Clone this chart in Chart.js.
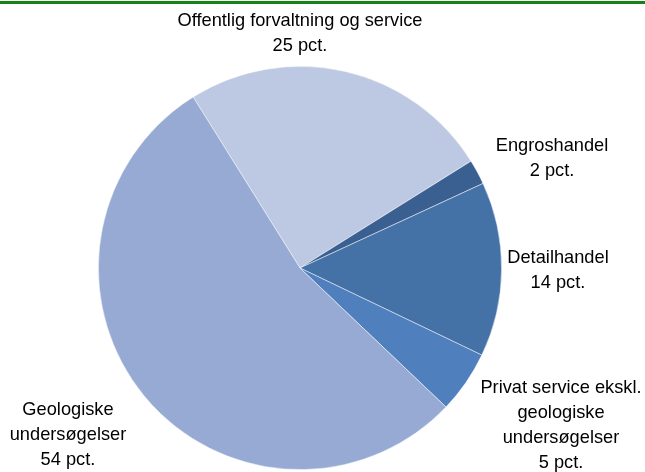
<!DOCTYPE html>
<html>
<head>
<meta charset="utf-8">
<script src="https://cdn.jsdelivr.net/npm/chart.js@4/dist/chart.umd.min.js"></script>
<style>
  html, body { margin: 0; padding: 0; background: #fff; }
  #wrap { position: relative; width: 645px; height: 472px; }
  #topline { position: absolute; left: 0; top: 1px; width: 645px; height: 3px; background: #13831a; }
  #c { position: absolute; left: 0; top: 0; }
</style>
</head>
<body>
<div id="wrap">
  <canvas id="c" width="645" height="472"></canvas>
  <div id="topline"></div>
</div>
<script>
// Data
const labels = [
    ['Offentlig forvaltning og service', '25 pct.'],
    ['Engroshandel', '2 pct.'],
    ['Detailhandel', '14 pct.'],
    ['Privat service ekskl.', 'geologiske', 'undersøgelser', '5 pct.'],
    ['Geologiske', 'undersøgelser', '54 pct.']
];
const values = [25, 2, 14, 5, 54];
const colors = ['#bdc8e2', '#3a5f91', '#4472a7', '#4f80bd', '#96aad3'];

// label anchors (center x, first line middle y) - layout only
const labelPos = [[300, 21], [552, 146], [558, 258], [561, 388], [68, 410]];

const labelPlugin = {
    id: 'sliceLabels',
    afterDraw(chart) {
        const ctx = chart.ctx;
        const sx = 0.96; // squeeze a bit, the original font is condensed
        ctx.save();
        ctx.font = '19px "Liberation Sans", "DejaVu Sans", sans-serif';
        ctx.fillStyle = '#000';
        ctx.textAlign = 'center';
        ctx.textBaseline = 'middle';
        labels.forEach((lines, i) => {
            const [x, y] = labelPos[i];
            lines.forEach((t, j) => {
                ctx.save();
                ctx.translate(x, y + j * 25);
                ctx.scale(sx, 1);
                ctx.fillText(t, 0, 0);
                ctx.restore();
            });
        });
        ctx.restore();
    }
};

new Chart(document.getElementById('c'), {
    type: 'pie',
    data: {
        labels: labels.map(l => l.join(' ')),
        datasets: [{
            data: values,
            backgroundColor: colors,
            borderColor: 'rgba(255,255,255,0.6)',
            borderWidth: 0.8
        }]
    },
    options: {
        responsive: false,
        animation: false,
        rotation: -32,
        layout: { padding: { left: 98, right: 143, top: 66, bottom: 2 } },
        plugins: { legend: { display: false }, tooltip: { enabled: false } }
    },
    plugins: [labelPlugin]
});
</script>
</body>
</html>
